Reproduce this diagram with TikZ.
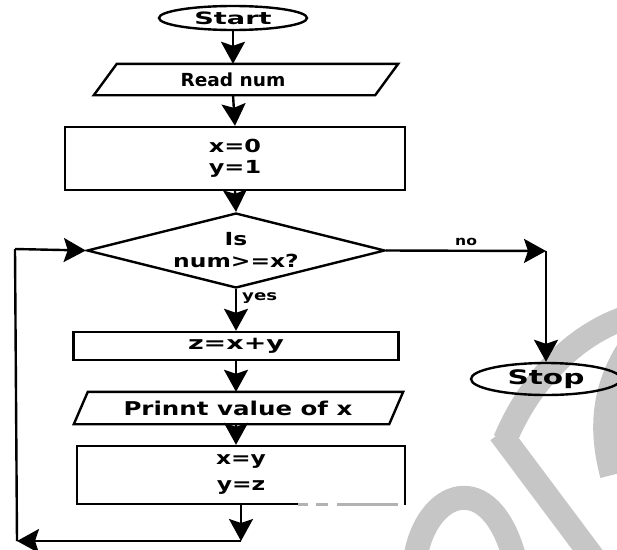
\documentclass[tikz,border=0pt]{standalone}
\usepackage{fontspec}
\setmainfont{DejaVu Sans}
\usetikzlibrary{shapes.geometric,arrows.meta}
\newcommand{\wt}[3]{{\fontsize{#1}{#1}\selectfont\bfseries\scalebox{#2}[1]{#3}}}
\begin{document}
\begin{tikzpicture}[x=1pt,y=-1pt,line width=2.4pt,
  arr/.style={-{Stealth[length=22pt,width=24pt,inset=4pt]}},
  wm/.style={draw=gray!45,line width=24pt},
  blk/.style={draw,line width=2.4pt},
  lbl/.style={inner sep=0pt,align=center}]
\useasboundingbox (0,0) rectangle (617,549);
% watermark
\draw[wm] (415,560) .. controls (425,490) and (490,465) .. (515,560);
\draw[wm] (500,433) -- (595,560);
\draw[wm] (505,440) .. controls (530,380) and (575,335) .. (625,318);
\draw[wm] (628,350) .. controls (603,390) and (600,430) .. (612,475);
% nodes
\node[blk,ellipse,minimum width=148pt,minimum height=24pt,inner sep=0pt] (start) at (233,18) {\wt{17}{1.6}{Start}};
\node[minimum width=302pt,minimum height=29pt,inner sep=0pt] (read) at (246,79.5) {};
\draw[blk] ([xshift=23pt]read.north west) -- (read.north east) -- ([xshift=-23pt]read.south east) -- (read.south west) -- cycle;
\node[lbl] (readt) at (233,80) {\wt{18}{1.03}{Read num}};
\node[blk,minimum width=340pt,minimum height=63pt,inner sep=0pt,align=center,font=\fontsize{18}{21}\selectfont] (init) at (235,158.5)
  {\wt{18}{1.33}{x=0}\\\wt{18}{1.33}{y=1}};
\node[blk,diamond,aspect=4,minimum width=298pt,minimum height=75pt,inner sep=0pt,align=center,font=\fontsize{18}{22}\selectfont] (dec) at (236,250.5)
  {\wt{18}{1.3}{Is}\\\wt{18}{1.3}{num>=x?}};
\node[blk,minimum width=325pt,minimum height=28pt,inner sep=0pt] (zbox) at (236,346) {\wt{18}{1.5}{z=x+y}};
\node[minimum width=327pt,minimum height=30pt,inner sep=0pt] (print) at (238.5,408) {};
\draw[blk] ([xshift=14pt]print.north west) -- (print.north east) -- ([xshift=-14pt]print.south east) -- (print.south west) -- cycle;
\node[lbl] (printt) at (238,408) {\wt{19}{1.29}{Prinnt value of x}};
\node[blk,minimum width=328pt,minimum height=58pt,inner sep=0pt,align=center,font=\fontsize{18}{26}\selectfont] (xy) at (241,475)
  {\wt{18}{1.3}{x=y}\\\wt{18}{1.3}{y=z}};
\node[blk,ellipse,minimum width=150pt,minimum height=32pt,inner sep=0pt] (stop) at (546,379) {\wt{20}{1.48}{Stop}};
% coordinates
\coordinate (n1) at (546,251);
\coordinate (b1) at (241,541);
\coordinate (b2) at (17,541);
\coordinate (b3) at (15,249);
% connectors
\draw[arr] (start.south) -- (start.south |- read.north);
\draw[arr] (start.south |- read.south) -- (init.north);
\draw[arr] (init.south) -- (dec.north);
\draw[arr] (dec.east) -- (n1) node[midway,above=4pt,lbl] (no) {\wt{13}{1.2}{no}};
\draw[arr] (n1) -- (stop.north);
\draw[arr] (dec.south) -- (dec.south |- zbox.north);
\node[lbl,anchor=west] (yes) at (241,298) {\wt{14}{1.3}{yes}};
\draw[arr] (zbox.south) -- (zbox.south |- print.north);
\draw[arr] (zbox.south |- print.south) -- (zbox.south |- xy.north);
\draw[arr] (xy.south) -- (b1);
\draw[arr] (b1) -- (b2);
\draw (b2) -- (b3);
\draw[arr] (b3) -- (dec.west);
% pale marks on the bottom edge
\draw[white,line width=3pt] (298,504) -- (404,504);
\draw[gray!60,line width=3pt] (298,504) -- (308,504) (316,504) -- (328,504) (337,504) -- (398,504);
\end{tikzpicture}
\end{document}
